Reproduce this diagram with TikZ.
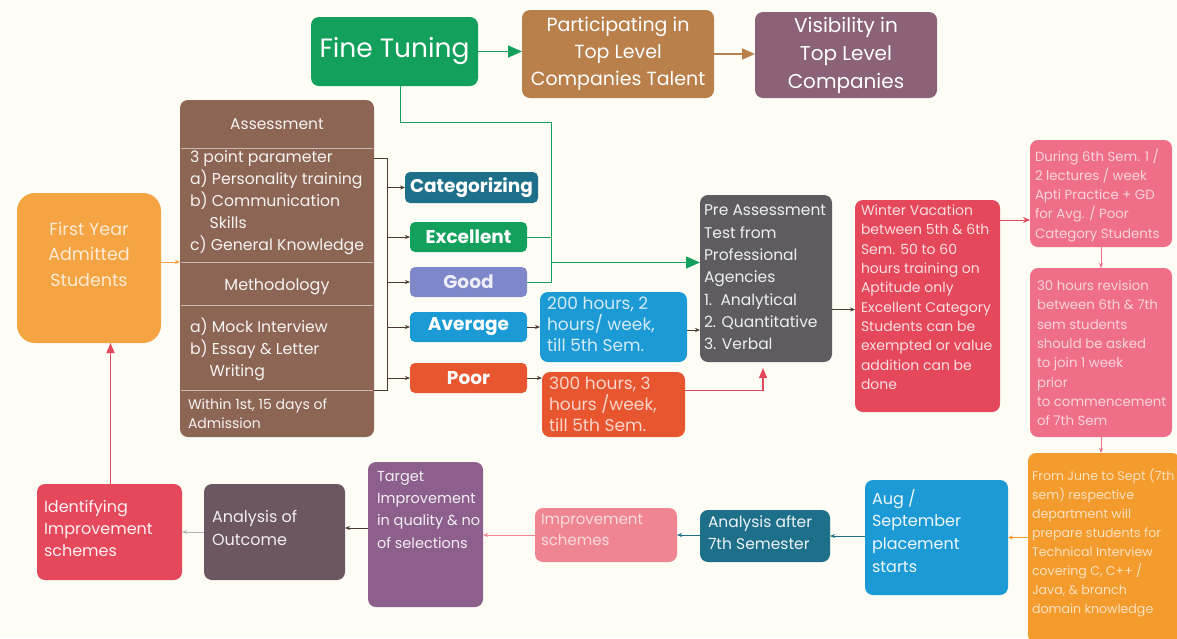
\documentclass[tikz,border=0pt]{standalone}
\usepackage{fontspec}
\setmainfont{Poppins}
\usetikzlibrary{arrows.meta}
\definecolor{bg}{HTML}{FDFDF6}
\definecolor{cgreen}{HTML}{13A05C}
\definecolor{cbrown}{HTML}{B9804C}
\definecolor{cmauve}{HTML}{8B6277}
\definecolor{cassess}{HTML}{8C6554}
\definecolor{cteal}{HTML}{1D6F8A}
\definecolor{cgood}{HTML}{7D87C9}
\definecolor{cblue}{HTML}{1C9AD6}
\definecolor{cpoor}{HTML}{E8562F}
\definecolor{cgray}{HTML}{5F5C61}
\definecolor{cred}{HTML}{E5475B}
\definecolor{cpink}{HTML}{EE6F87}
\definecolor{corange}{HTML}{F39B2D}
\definecolor{cimpr}{HTML}{F08592}
\definecolor{ctarget}{HTML}{8C5F8D}
\definecolor{coutcome}{HTML}{6C5661}
\definecolor{cfirst}{HTML}{F4A442}
\definecolor{cline}{HTML}{4A3A30}
\newcommand\fsz[2]{\fontsize{#1}{#2}\selectfont}
\tikzset{
  box/.style={rounded corners=8pt, inner sep=0pt, outer sep=0pt, anchor=north west},
  txt/.style={inner sep=0pt, outer sep=0pt, anchor=north west, align=left, text=white},
  ctxt/.style={inner sep=0pt, outer sep=0pt, align=center, text=white},
  catlab/.style={font=\bfseries\fsz{18.5}{20}, text=white},
  sarr/.style={-{Stealth[length=5pt,width=4pt]}, line width=0.6pt, draw=cline},
  garr/.style={-{Triangle[length=14pt,width=12pt]}, line width=1.4pt, draw=cgreen},
  gline/.style={line width=1pt, draw=cgreen},
  brarr/.style={-{Triangle[length=13pt,width=11pt]}, line width=1.8pt, draw=cbrown},
  rarr/.style={-{Triangle[length=10pt,width=8pt]}, line width=1.2pt, draw=cred},
}
\begin{document}
\begin{tikzpicture}[x=1pt,y=-1pt]
\fill[bg] (0,0) rectangle (1177,638);
\useasboundingbox (0,0) rectangle (1177,638);

% top row
\node[box, fill=cgreen, minimum width=167pt, minimum height=69pt] (fine) at (311,17) {};
\node[ctxt, font=\fsz{26.5}{30}] (fine-t) at ([yshift=1pt]fine.center) {Fine Tuning};
\node[box, fill=cbrown, minimum width=192pt, minimum height=88pt] (part) at (522,10) {};
\node[ctxt, font=\fsz{19}{27}] (part-t) at (part.center) {Participating in\\Top Level\\Companies Talent};
\node[box, fill=cmauve, minimum width=182pt, minimum height=86pt] (vis) at (755,12) {};
\node[ctxt, font=\fsz{20}{28}] (vis-t) at (vis.center) {Visibility in\\Top Level\\Companies};

% assessment block
\node[box, fill=cassess, minimum width=194pt, minimum height=337pt] (assess) at (180,100) {};
\foreach \yy in {148,262,305,390} \draw[white, opacity=0.55, line width=0.8pt] (181,\yy) -- (373,\yy);
\node[ctxt, font=\fsz{15.5}{22}, text=white!92!cassess] (as-h) at (277,124) {Assessment};
\node[txt, font=\fsz{15.7}{22}, text=white!92!cassess] (as-1) at (190,150.5) {3 point parameter\\a) Personality training\\b) Communication\\\hspace*{1.25em}Skills\\c) General Knowledge};
\node[ctxt, font=\fsz{16}{22}, text=white!92!cassess] (as-m) at (277,287) {Methodology};
\node[txt, font=\fsz{15.7}{22}, text=white!92!cassess] (as-2) at (190,317.5) {a) Mock Interview\\b) Essay \& Letter\\\hspace*{1.25em}Writing};
\node[txt, font=\fsz{14}{19}, text=white!92!cassess] (as-3) at (188,398.5) {Within 1st, 15 days of\\Admission};

% categories
\node[box, fill=cteal, minimum width=133pt, minimum height=31pt, rounded corners=5pt] (cat) at (405,172) {};
\node[catlab] (cat-t) at (cat.center) {Categorizing};
\node[box, fill=cgreen, minimum width=117pt, minimum height=30pt, rounded corners=5pt] (exc) at (410,222) {};
\node[catlab] (exc-t) at (exc.center) {Excellent};
\node[box, fill=cgood, minimum width=117pt, minimum height=30pt, rounded corners=5pt] (good) at (410,267) {};
\node[catlab, text=white!85!cgood] (good-t) at (good.center) {Good};
\node[box, fill=cblue, minimum width=117pt, minimum height=30pt, rounded corners=5pt] (avg) at (410,312) {};
\node[catlab] (avg-t) at (avg.center) {Average};
\node[box, fill=cpoor, minimum width=117pt, minimum height=30pt, rounded corners=5pt] (poor) at (410,363) {};
\node[catlab] (poor-t) at (poor.center) {Poor};

% bracket
\coordinate (b1) at (374,158);
\coordinate (b2) at (387,158);
\coordinate (b3) at (387,390);
\coordinate (b4) at (374,390);
\draw[cline, line width=0.7pt] (b1) -- (b2) -- (b3) -- (b4);
\foreach \n in {cat,exc,good,avg,poor} \draw[sarr] (\n.west -| b2) -- (\n.west);

% hours boxes
\node[box, fill=cblue, minimum width=147pt, minimum height=70pt] (h200) at (540,292) {};
\node[txt, font=\fsz{17}{21}, text=white!80!cblue] (h200-t) at (547,296.5) {200 hours, 2\\hours/ week,\\till 5th Sem.};
\node[box, fill=cpoor, minimum width=143pt, minimum height=65pt] (h300) at (542,372) {};
\node[txt, font=\fsz{17}{21}, text=white!75!cpoor] (h300-t) at (549,376.5) {300 hours, 3\\hours /week,\\till 5th Sem.};

% pre assessment
\node[box, fill=cgray, minimum width=132pt, minimum height=167pt] (pre) at (700,195) {};
\node[txt, font=\fsz{15.5}{22.3}, text=white!90!cgray] (pre-t) at (704,205) {Pre Assessment\\Test from\\Professional\\Agencies\\1.\ \ Analytical\\2. Quantitative\\3. Verbal};

% winter
\node[box, fill=cred, minimum width=145pt, minimum height=212pt] (winter) at (855,200) {};
\node[txt, font=\fsz{14}{19.3}, text=white!82!cred] (winter-t) at (861,205) {Winter Vacation\\between 5th \& 6th\\Sem. 50 to 60\\hours training on\\Aptitude only\\Excellent Category\\Students can be\\exempted or value\\addition can be\\done};

% right column
\node[box, fill=cpink, minimum width=142pt, minimum height=107pt] (during) at (1030,140) {};
\node[txt, font=\fsz{13.3}{19.3}, text=white!70!cpink] (during-t) at (1035,148.5) {During 6th Sem. 1 /\\2 lectures / week\\Apti Practice + GD\\for Avg. / Poor\\Category Students};
\node[box, fill=cpink, minimum width=142pt, minimum height=169pt] (h30) at (1030,268) {};
\node[txt, font=\fsz{13.3}{19.3}, text=white!70!cpink] (h30-t) at (1037,280.5) {30 hours revision\\between 6th \& 7th\\sem students\\should be asked\\to join 1 week\\prior\\to commencement\\of 7th Sem};
\node[box, fill=corange, minimum width=152pt, minimum height=190pt] (june) at (1028,453) {};
\node[txt, font=\fsz{12.6}{19}, text=white!70!corange] (june-t) at (1032,468.5) {From June to Sept (7th\\sem) respective\\department will\\prepare students for\\Technical Interview\\covering C, C++ /\\Java, \& branch\\domain knowledge};

% bottom row
\node[box, fill=cblue, minimum width=143pt, minimum height=115pt] (aug) at (865,480) {};
\node[txt, font=\fsz{16}{22.7}, text=white!92!cblue] (aug-t) at (872,489) {Aug /\\September\\placement\\starts};
\node[box, fill=cteal, minimum width=130pt, minimum height=52pt] (anal7) at (700,510) {};
\node[txt, font=\fsz{15.5}{22}, text=white!92!cteal] (anal7-t) at (708,516) {Analysis after\\7th Semester};
\node[box, fill=cimpr, minimum width=142pt, minimum height=54pt] (impr) at (535,508) {};
\node[txt, font=\fsz{15}{21}, text=white!70!cimpr] (impr-t) at (541,514.5) {Improvement\\schemes};
\node[box, fill=ctarget, minimum width=115pt, minimum height=145pt] (target) at (368,462) {};
\node[txt, font=\fsz{14.5}{22.3}, text=white!90!ctarget] (target-t) at (377,471) {Target\\Improvement\\in quality \& no\\of selections};
\node[box, fill=coutcome, minimum width=141pt, minimum height=96pt] (outcome) at (204,484) {};
\node[txt, font=\fsz{16}{23}, text=white!90!coutcome] (outcome-t) at (212,510) {Analysis of\\Outcome};
\node[box, fill=cred, minimum width=145pt, minimum height=96pt] (ident) at (37,484) {};
\node[txt, font=\fsz{16}{22}, text=white!92!cred] (ident-t) at (44,500) {Identifying\\Improvement\\schemes};
\node[box, fill=cfirst, minimum width=144pt, minimum height=150pt, rounded corners=18pt] (first) at (17,193) {};
\node[ctxt, font=\fsz{17.5}{25.5}, text=white!78!cfirst] (first-t) at (89,254) {First Year\\Admitted\\Students};

% connectors
\draw[garr] (fine.east) -- (fine.east -| part.west);
\draw[brarr] (part.east) -- (part.east -| vis.west);
\coordinate (jx) at (551,122);
\coordinate (pa) at ([yshift=16pt]pre.west);
\draw[gline] ([xshift=6pt]fine.south) |- (jx) -- (jx |- good.east) -- (good.east);
\draw[gline] (exc.east) -- (exc.east -| jx);
\draw[garr] (pa -| jx) -- (pa);
\draw[sarr] (avg.east) -- (avg.east -| h200.west);
\draw[sarr] (poor.east) -- (poor.east -| h300.west);
\draw[sarr] ([yshift=-3pt]h200.east) -- ([yshift=-3pt]h200.east -| pre.west);
\draw[rarr] ([yshift=14pt]h300.east) -| ([xshift=-3pt, yshift=-6pt]pre.south);
\draw[sarr] ([yshift=-31pt]pre.east) -- ([yshift=-31pt]pre.east -| winter.west);
\draw[rarr, line width=0.9pt, -{Stealth[length=7pt,width=6pt]}] ([yshift=86pt]winter.east) -- ([yshift=86pt]winter.east -| during.west);
\draw[sarr, draw=cpink] (during.south) -- (during.south |- h30.north);
\draw[sarr, draw=cpink] (h30.south) -- (h30.south |- june.north);
\draw[sarr, draw=corange] (aug.east -| june.west) -- (aug.east);
\draw[sarr, draw=cteal] (anal7.east -| aug.west) -- (anal7.east);
\draw[sarr, draw=cteal] (impr.east -| anal7.west) -- (impr.east);
\draw[sarr, draw=cimpr] (impr.west) -- (impr.west -| target.east);
\draw[sarr] ([yshift=4pt]outcome.east -| target.west) -- ([yshift=4pt]outcome.east);
\draw[sarr, draw=gray!60] (ident.east -| outcome.west) -- (ident.east);
\draw[rarr] ([xshift=1pt]ident.north) -- ([xshift=1pt]ident.north |- first.south);
\draw[sarr, draw=cfirst] ([yshift=6pt]first.east) -- ([yshift=6pt]first.east -| assess.west);
\end{tikzpicture}
\end{document}
